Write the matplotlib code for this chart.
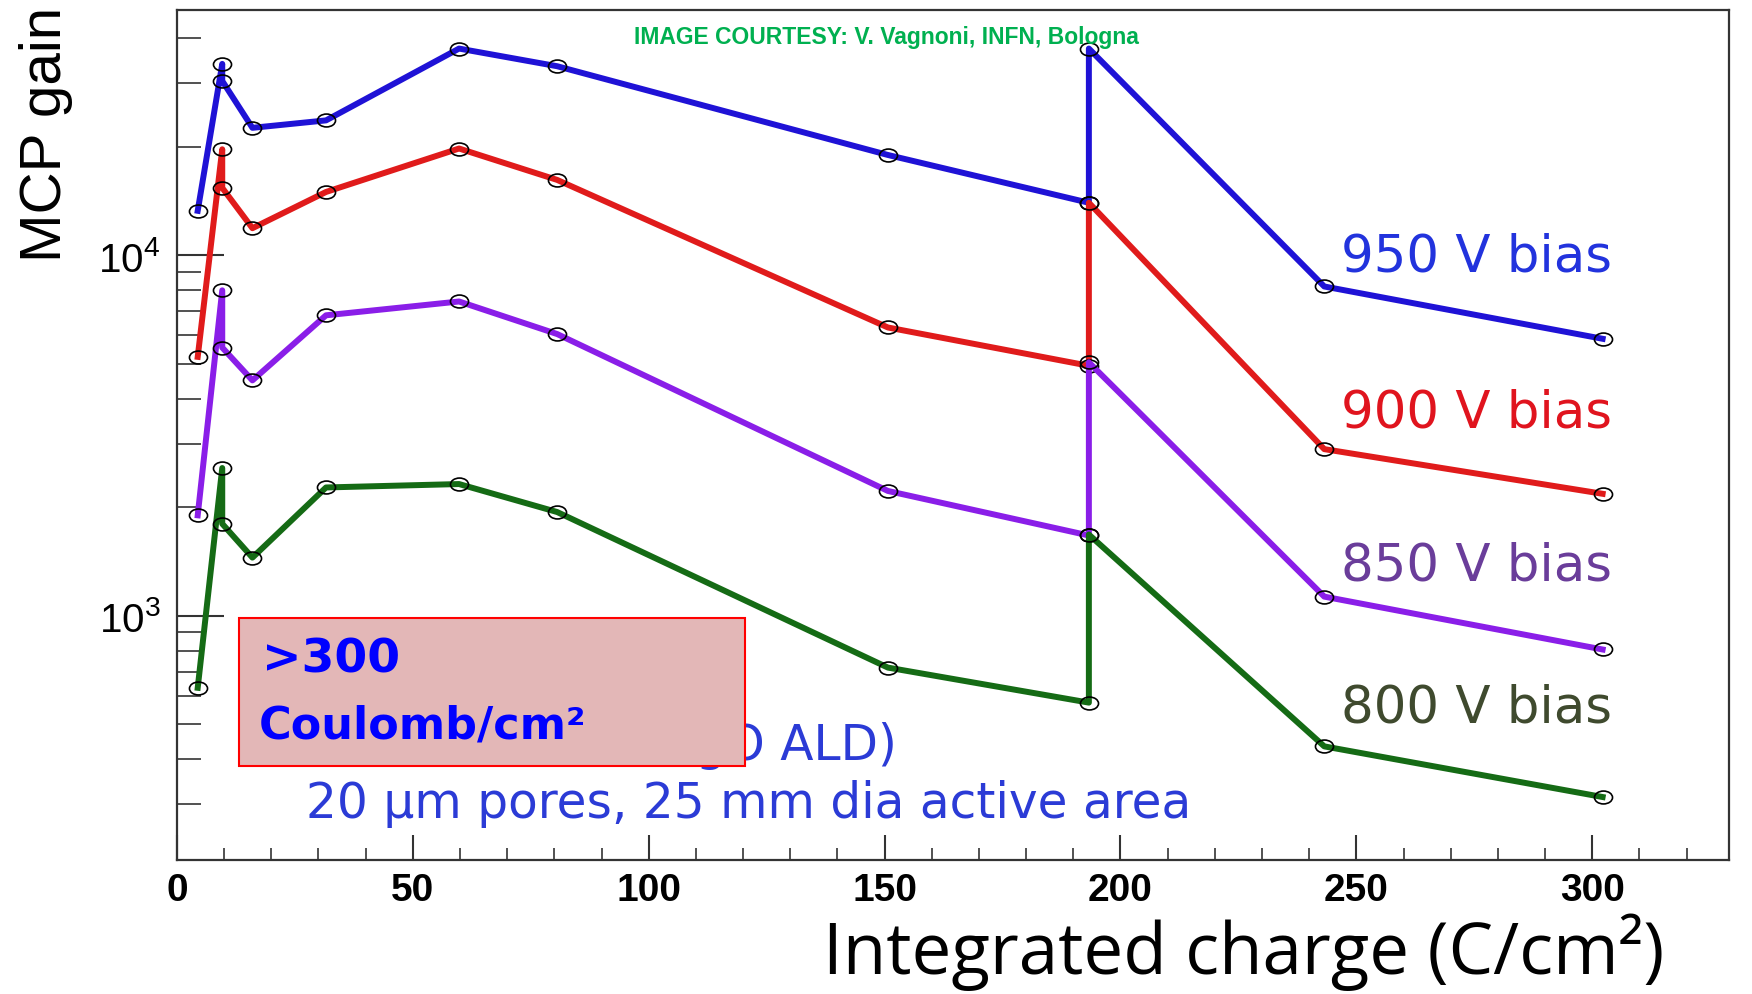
import matplotlib
matplotlib.use("Agg")
import matplotlib.pyplot as plt
import numpy as np
from matplotlib.path import Path
from matplotlib.transforms import Affine2D
from matplotlib.patches import Rectangle
from matplotlib.ticker import MultipleLocator, LogLocator, NullFormatter

plt.rcParams['font.family'] = ['Liberation Sans', 'DejaVu Sans']

# integrated charge (C/cm2) at each measurement
charge = [4.4, 9.6, 9.6, 16.0, 31.6, 59.8, 80.6, 150.7, 193.3, 193.3, 243.2, 302.2]

gain_950 = [13300, 34000, 30500, 22600, 23700, 37500, 33500, 19000, 14000, 37500, 8200, 5870]
gain_900 = [5230, 19700, 15400, 11900, 15000, 19800, 16200, 6310, 4940, 14000, 2900, 2180]
gain_850 = [1900, 8000, 5550, 4500, 6820, 7450, 6050, 2220, 1670, 5050, 1130, 806]
gain_800 = [631, 2570, 1800, 1450, 2270, 2320, 1940, 718, 574, 1680, 434, 314]

series = [
    ("950 V bias", gain_950, "#1f12d6", "#2233dd", 0.710),
    ("900 V bias", gain_900, "#e01b1b", "#e0141e", 0.527),
    ("850 V bias", gain_850, "#8a1ee8", "#6a3d9a", 0.347),
    ("800 V bias", gain_800, "#156b15", "#3f4a2e", 0.179),
]

fig = plt.figure(figsize=(17.52, 9.95), dpi=100)
ax = fig.add_axes([0.101, 0.1347, 0.8859, 0.8543])

# slightly wide open circles (the original slide is stretched sideways)
ellipse = Path.unit_circle().transformed(Affine2D().scale(1.4, 1.0))

for label, gain, lc, tc, ty in series:
    ax.plot(charge, gain, color=lc, lw=4.3, marker=ellipse, ms=13,
            mfc='none', mec='black', mew=1.2)
    ax.text(0.837, ty, label, transform=ax.transAxes, color=tc,
            fontsize=37, family='DejaVu Sans', ha='center', va='center')

ax.set_yscale('log')
ax.set_xlim(0, 329)
ax.set_ylim(210, 48000)

ax.xaxis.set_major_locator(MultipleLocator(50))
ax.xaxis.set_minor_locator(MultipleLocator(10))
ax.yaxis.set_major_locator(LogLocator(base=10))
ax.yaxis.set_minor_locator(LogLocator(base=10, subs=np.arange(2, 10)))
ax.yaxis.set_minor_formatter(NullFormatter())

ax.tick_params(axis='x', which='major', direction='in', length=18, width=1.5,
               labelsize=28, pad=9, color='#333333')
ax.tick_params(axis='x', which='minor', direction='in', length=9, width=1.2,
               color='#333333')
ax.tick_params(axis='y', which='major', direction='in', length=34, width=1.5,
               labelsize=29, pad=12, color='#333333')
ax.tick_params(axis='y', which='minor', direction='in', length=17, width=1.2,
               color='#333333')
for lab in ax.get_xticklabels():
    lab.set_fontweight('bold')
for s in ax.spines.values():
    s.set_linewidth(1.6)
    s.set_color('#333333')

# annotation box
ax.text(0.3686, 0.067, "20 \u03bcm pores, 25 mm dia active area",
        transform=ax.transAxes, color='#2b3bd6', fontsize=35,
        family='DejaVu Sans', ha='center', va='center')
ax.text(0.464, 0.135, "(MgO ALD)", transform=ax.transAxes, color='#2b3bd6',
        fontsize=35, family='DejaVu Sans', ha='right', va='center', zorder=3)
ax.add_patch(Rectangle((0.040, 0.1106), 0.326, 0.174, transform=ax.transAxes,
                       facecolor='#e3b7b7', edgecolor='#ff0000', lw=1.5,
                       zorder=4))
ax.text(0.055, 0.236, ">300", transform=ax.transAxes, color='#0000ff',
        fontsize=34, fontweight='bold', family='DejaVu Sans', ha='left',
        va='center', zorder=5)
ax.text(0.053, 0.159, "Coulomb/cm\u00b2", transform=ax.transAxes, color='#0000ff',
        fontsize=32, fontweight='bold', family='DejaVu Sans', ha='left',
        va='center', zorder=5)

ax.text(0.457, 0.969, "IMAGE COURTESY: V. Vagnoni, INFN, Bologna",
        transform=ax.transAxes, color='#00b050', fontsize=16.5, fontweight='bold',
        family='Liberation Sans', ha='center', va='center')

fig.text(0.026, 0.737, "MCP gain", rotation=90, fontsize=42,
         ha='center', va='bottom')
fig.text(0.710, 0.043, "Integrated charge (C/cm\u00b2)", fontsize=51,
         family='Open Sans', ha='center', va='center')

fig.savefig("out.png", dpi=100)
